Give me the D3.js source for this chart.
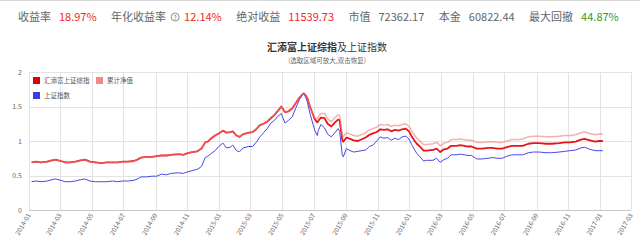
<!DOCTYPE html>
<html>
<head>
<meta charset="utf-8">
<script src="https://cdn.jsdelivr.net/npm/d3@7"></script>
<style>
  body { margin: 0; background: #fff; }
  svg { display: block; font-family: "Noto Sans CJK SC", "Noto Sans", sans-serif; }
</style>
</head>
<body>
<svg id="chart" width="640" height="245"></svg>
<script>
// header summary
const headerLabels = ["收益率", "年化收益率", "绝对收益", "市值", "本金", "最大回撤"];
const headerValues = ["18.97%", "12.14%", "11539.73", "72362.17", "60822.44", "44.87%"];
const headerKinds = ["up", "up", "up", "plain", "plain", "down"];

const seriesNames = ["汇添富上证综指", "累计净值", "上证指数"];

const tickLabels = ["2014-01", "2014-03", "2014-05", "2014-07", "2014-09", "2014-11",
  "2015-01", "2015-03", "2015-05", "2015-07", "2015-09", "2015-11",
  "2016-01", "2016-03", "2016-05", "2016-07", "2016-09", "2016-11",
  "2017-01", "2017-03"];
const yTicks = [0, 0.5, 1, 1.5, 2];

const dates = [
  "2014-01-06", "2014-01-15", "2014-01-24", "2014-02-05", "2014-02-14", "2014-02-21", "2014-03-03", "2014-03-12", "2014-03-21", "2014-03-31",
  "2014-04-10", "2014-04-18", "2014-04-28", "2014-05-09", "2014-05-20", "2014-05-30", "2014-06-10", "2014-06-20", "2014-06-30", "2014-07-10",
  "2014-07-21", "2014-07-28", "2014-08-04", "2014-08-14", "2014-08-25", "2014-09-03", "2014-09-12", "2014-09-22", "2014-09-30", "2014-10-15",
  "2014-10-24", "2014-10-31", "2014-11-10", "2014-11-20", "2014-11-28", "2014-12-05", "2014-12-10", "2014-12-17", "2014-12-24", "2014-12-31",
  "2015-01-08", "2015-01-15", "2015-01-22", "2015-01-27", "2015-02-03", "2015-02-09", "2015-02-16", "2015-02-27", "2015-03-06", "2015-03-13",
  "2015-03-20", "2015-03-27", "2015-04-03", "2015-04-10", "2015-04-17", "2015-04-24", "2015-04-30", "2015-05-07", "2015-05-14", "2015-05-21",
  "2015-05-28", "2015-06-04", "2015-06-09", "2015-06-12", "2015-06-16", "2015-06-19", "2015-06-24", "2015-06-30", "2015-07-03", "2015-07-08",
  "2015-07-10", "2015-07-15", "2015-07-22", "2015-07-28", "2015-08-04", "2015-08-11", "2015-08-17", "2015-08-20", "2015-08-25", "2015-08-27",
  "2015-09-02", "2015-09-09", "2015-09-16", "2015-09-24", "2015-10-09", "2015-10-16", "2015-10-23", "2015-10-30", "2015-11-06", "2015-11-13",
  "2015-11-20", "2015-11-27", "2015-12-04", "2015-12-11", "2015-12-18", "2015-12-25", "2015-12-31", "2016-01-05", "2016-01-11", "2016-01-15",
  "2016-01-21", "2016-01-28", "2016-02-03", "2016-02-15", "2016-02-22", "2016-02-29", "2016-03-07", "2016-03-14", "2016-03-21", "2016-03-31",
  "2016-04-08", "2016-04-15", "2016-04-22", "2016-04-29", "2016-05-09", "2016-05-20", "2016-05-31", "2016-06-08", "2016-06-17", "2016-06-27",
  "2016-07-06", "2016-07-15", "2016-07-26", "2016-08-05", "2016-08-16", "2016-08-26", "2016-09-06", "2016-09-19", "2016-09-30", "2016-10-14",
  "2016-10-25", "2016-11-04", "2016-11-15", "2016-11-25", "2016-12-02", "2016-12-12", "2016-12-22", "2016-12-30", "2017-01-06"
];

// 汇添富上证综指 unit value
const fundNav = [
  .69, .70, .69, .70, .72, .73, .71, .69, .69, .70,
  .72, .73, .70, .69, .68, .69, .69, .69, .70, .70,
  .71, .73, .76, .77, .77, .78, .79, .79, .80, .81,
  .80, .82, .84, .85, .89, .98, .99, 1.04, 1.08, 1.11,
  1.15, 1.12, 1.13, 1.14, 1.08, 1.06, 1.10, 1.12, 1.13, 1.17,
  1.23, 1.25, 1.28, 1.33, 1.38, 1.44, 1.50, 1.42, 1.43, 1.47,
  1.55, 1.63, 1.67, 1.69, 1.66, 1.62, 1.50, 1.38, 1.32, 1.27,
  1.29, 1.34, 1.33, 1.25, 1.21, 1.27, 1.31, 1.30, 1.02, 0.99,
  1.05, 1.03, 1.01, 1.00, 1.05, 1.09, 1.11, 1.13, 1.17, 1.16,
  1.17, 1.14, 1.16, 1.15, 1.17, 1.18, 1.14, 1.07, 1.00, 0.96,
  0.92, 0.86, 0.86, 0.87, 0.89, 0.84, 0.88, 0.89, 0.93, 0.93,
  0.94, 0.93, 0.92, 0.92, 0.89, 0.89, 0.90, 0.90, 0.89, 0.89,
  0.91, 0.93, 0.93, 0.93, 0.96, 0.97, 0.97, 0.96, 0.96, 0.97,
  0.98, 0.98, 0.99, 1.02, 1.03, 1.01, 0.99, 1.00, 1.00
];

// 累计净值
const cumNav = [
  .69, .70, .69, .70, .72, .73, .71, .69, .69, .70,
  .72, .73, .70, .69, .68, .69, .69, .69, .70, .70,
  .71, .73, .76, .77, .77, .78, .79, .79, .80, .81,
  .80, .82, .84, .85, .89, .98, .99, 1.04, 1.08, 1.11,
  1.15, 1.12, 1.13, 1.14, 1.08, 1.06, 1.10, 1.12, 1.13, 1.17,
  1.23, 1.25, 1.28, 1.33, 1.38, 1.44, 1.50, 1.42, 1.43, 1.47,
  1.55, 1.63, 1.67, 1.69, 1.66, 1.62, 1.50, 1.38, 1.34, 1.32,
  1.35, 1.40, 1.40, 1.32, 1.28, 1.34, 1.38, 1.37, 1.09, 1.06,
  1.12, 1.10, 1.08, 1.07, 1.12, 1.16, 1.18, 1.20, 1.24, 1.23,
  1.24, 1.21, 1.23, 1.22, 1.24, 1.25, 1.21, 1.15, 1.08, 1.04,
  1.00, 0.95, 0.95, 0.96, 0.98, 0.93, 0.97, 0.98, 1.02, 1.02,
  1.03, 1.02, 1.01, 1.01, 0.98, 0.98, 0.99, 0.99, 0.98, 0.98,
  1.00, 1.02, 1.02, 1.03, 1.06, 1.07, 1.07, 1.06, 1.06, 1.07,
  1.08, 1.08, 1.09, 1.12, 1.13, 1.11, 1.09, 1.10, 1.10
];

// 上证指数 (scaled)
const szIndex = [
  .41, .42, .41, .42, .44, .45, .43, .41, .41, .42,
  .44, .45, .42, .41, .41, .41, .42, .41, .42, .42,
  .43, .45, .48, .48, .49, .49, .52, .51, .53, .54,
  .53, .55, .57, .59, .63, .76, .78, .82, .86, .92,
  .97, .90, .91, .94, .86, .845, .90, .92, .92, .98,
  1.06, 1.12, 1.18, 1.26, 1.30, 1.36, 1.40, 1.26, 1.30, 1.35,
  1.48, 1.60, 1.66, 1.69, 1.63, 1.57, 1.40, 1.24, 1.16, 1.08,
  1.15, 1.24, 1.19, 1.10, 1.06, 1.12, 1.18, 1.14, 0.80, 0.77,
  0.89, 0.86, 0.84, 0.85, 0.87, 0.92, 0.94, 1.00, 1.06, 1.04,
  1.05, 1.01, 1.04, 1.02, 1.06, 1.07, 1.03, 0.95, 0.87, 0.82,
  0.77, 0.71, 0.72, 0.72, 0.75, 0.69, 0.73, 0.75, 0.80, 0.80,
  0.81, 0.80, 0.79, 0.79, 0.74, 0.74, 0.75, 0.76, 0.75, 0.75,
  0.78, 0.80, 0.80, 0.80, 0.83, 0.84, 0.84, 0.83, 0.83, 0.84,
  0.85, 0.86, 0.87, 0.90, 0.91, 0.88, 0.86, 0.86, 0.86
];

const svg = d3.select("#chart");
const parse = d3.timeParse("%Y-%m-%d");
const parseMonth = d3.timeParse("%Y-%m");

const red = "#e8141b", pink = "#f27a7a", blue = "#4848e6";
const upColor = "#f0262b", downColor = "#3a9a2a";

// top border
svg.append("line").attr("x1", 0).attr("x2", 640).attr("y1", 0.5).attr("y2", 0.5)
  .attr("stroke", "#d8d8d8");

// header row, flowed left to right
let hx = 18;
const header = svg.append("g").attr("font-size", 11);
headerLabels.forEach((lab, i) => {
  const t = header.append("text").attr("x", hx).attr("y", 21).attr("fill", "#666").text(lab);
  hx += t.node().getComputedTextLength() + 8;
  if (i === 1) {
    // little help icon
    header.append("circle").attr("cx", hx + 1).attr("cy", 17).attr("r", 4)
      .attr("fill", "none").attr("stroke", "#777").attr("stroke-width", 0.8);
    header.append("text").attr("x", hx + 1).attr("y", 19.5).attr("text-anchor", "middle")
      .attr("font-size", 6.5).attr("fill", "#777").text("?");
    hx += 10;
  }
  const col = headerKinds[i] === "up" ? upColor : headerKinds[i] === "down" ? downColor : "#666";
  const v = header.append("text").attr("x", hx).attr("y", 21).attr("fill", col).text(headerValues[i]);
  hx += v.node().getComputedTextLength() + 14.5;
});

// title
const title = svg.append("text").attr("x", 327).attr("y", 51).attr("text-anchor", "middle")
  .attr("font-size", 10).attr("fill", "#333");
title.append("tspan").attr("font-weight", "bold").text("汇添富上证综指");
title.append("tspan").text("及上证指数");
svg.append("text").attr("x", 327).attr("y", 63).attr("text-anchor", "middle")
  .attr("font-size", 6.5).attr("fill", "#666").text("(选取区域可放大,双击恢复)");

// scales
const x = d3.scaleTime()
  .domain([parseMonth(tickLabels[0]), parseMonth(tickLabels[tickLabels.length - 1])])
  .range([29, 631]);
const y = d3.scaleLinear().domain([0, 2]).range([210, 72]);

// grid
svg.append("g").selectAll("line").data(yTicks).join("line")
  .attr("x1", 29).attr("x2", 631)
  .attr("y1", d => Math.round(y(d)) + 0.5).attr("y2", d => Math.round(y(d)) + 0.5)
  .attr("stroke", d => d === 0 ? "#c8c8c8" : "#e3e3e3");
svg.append("g").selectAll("line").data(tickLabels).join("line")
  .attr("x1", d => Math.round(x(parseMonth(d))) + 0.5).attr("x2", d => Math.round(x(parseMonth(d))) + 0.5)
  .attr("y1", 72).attr("y2", 210)
  .attr("stroke", "#e3e3e3");

// y labels
svg.append("g").selectAll("text").data(yTicks).join("text")
  .attr("x", 22).attr("y", d => y(d) + 2.5).attr("text-anchor", "end")
  .attr("font-size", 7).attr("fill", "#666").text(d => d);

// x labels
svg.append("g").selectAll("text").data(tickLabels).join("text")
  .attr("text-anchor", "end").attr("font-size", 6.5).attr("fill", "#666")
  .attr("transform", d => `translate(${x(parseMonth(d)) + 2},${215}) rotate(-60)`)
  .text(d => d);

// lines
const pts = vals => vals.map((v, i) => [parse(dates[i]), v]);
const line = d3.line().x(d => x(d[0])).y(d => y(d[1]));
svg.append("path").datum(pts(fundNav)).attr("d", line)
  .attr("fill", "none").attr("stroke", red).attr("stroke-width", 1.8).attr("stroke-linejoin", "round");
svg.append("path").datum(pts(szIndex)).attr("d", line)
  .attr("fill", "none").attr("stroke", blue).attr("stroke-width", 1).attr("stroke-linejoin", "round");
svg.append("path").datum(pts(cumNav)).attr("d", line)
  .attr("fill", "none").attr("stroke", pink).attr("stroke-opacity", 0.6)
  .attr("stroke-width", 1.5).attr("stroke-linejoin", "round");

// legend
const legendColors = ["#e00000", "#f08a8a", "#3c3ce6"];
const legendPos = [[33, 77], [96, 77], [33, 92]];
const lg = svg.append("g");
seriesNames.forEach((name, i) => {
  const [lx, ly] = legendPos[i];
  lg.append("rect").attr("x", lx).attr("y", ly).attr("width", 7).attr("height", 7)
    .attr("fill", legendColors[i]);
  lg.append("text").attr("x", lx + 11).attr("y", ly + 6).attr("font-size", 6.5)
    .attr("fill", "#555").text(name);
});
</script>
</body>
</html>
